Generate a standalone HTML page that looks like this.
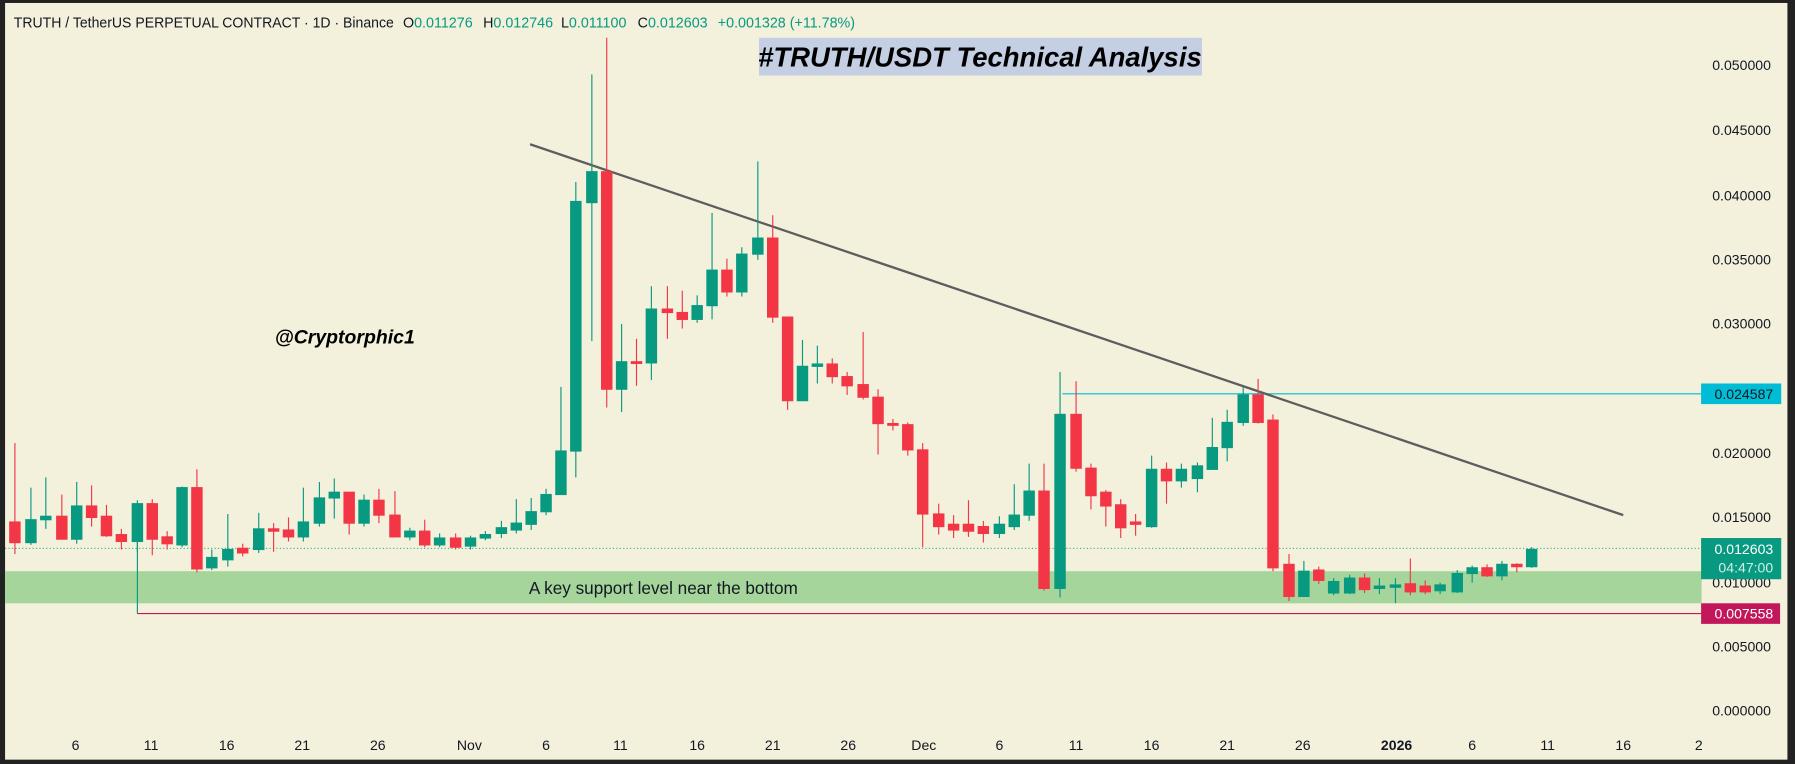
<!DOCTYPE html>
<html><head><meta charset="utf-8"><style>
html,body{margin:0;padding:0;background:#222;}
svg{display:block;}
.g{fill:#089981;stroke:#089981}
.r{fill:#f23645;stroke:#f23645}
line.w{stroke-width:1}
text{font-family:"Liberation Sans",sans-serif;}
</style></head><body>
<svg width="1795" height="764" viewBox="0 0 1568 667.4" xmlns="http://www.w3.org/2000/svg">
<rect x="0" y="0" width="1568" height="667.4" fill="#222"/>
<rect x="4.4" y="2.6" width="1557" height="661" fill="#f3f0dc"/>
<rect x="4.4" y="499" width="1482" height="28" fill="#a5d59b"/>
<line x1="4.4" y1="479" x2="1486" y2="479" stroke="#089981" stroke-width="0.8" stroke-dasharray="1,2"/>
<line x1="120" y1="470" x2="120" y2="536" stroke="#089981" stroke-width="1"/>
<line x1="120" y1="536" x2="1486" y2="536" stroke="#c2185b" stroke-width="1"/>
<line x1="928" y1="344" x2="1486" y2="344" stroke="#00bcd4" stroke-width="1"/>
<line x1="463" y1="126" x2="1418" y2="450" stroke="#5d5d5d" stroke-width="2"/>
<g id="c">
<line class="r w" x1="13" y1="387" x2="13" y2="484"/><rect class="r" x="8.5" y="456" width="9" height="18"/>
<line class="g w" x1="27" y1="426" x2="27" y2="476"/><rect class="g" x="22.5" y="454" width="9" height="20"/>
<line class="g w" x1="40" y1="417" x2="40" y2="462"/><rect class="g" x="35.5" y="451" width="9" height="3"/>
<line class="r w" x1="54" y1="432" x2="54" y2="471"/><rect class="r" x="49.5" y="451" width="9" height="20"/>
<line class="g w" x1="67" y1="421" x2="67" y2="475"/><rect class="g" x="62.5" y="442" width="9" height="29"/>
<line class="r w" x1="80" y1="424" x2="80" y2="460"/><rect class="r" x="75.5" y="442" width="9" height="10"/>
<line class="r w" x1="93" y1="441" x2="93" y2="469"/><rect class="r" x="88.5" y="451" width="9" height="17"/>
<line class="r w" x1="106" y1="462" x2="106" y2="480"/><rect class="r" x="101.5" y="467" width="9" height="6"/>
<line class="g w" x1="120" y1="437" x2="120" y2="482"/><rect class="g" x="115.5" y="440" width="9" height="33"/>
<line class="r w" x1="133" y1="436" x2="133" y2="485"/><rect class="r" x="128.5" y="440" width="9" height="31"/>
<line class="r w" x1="146" y1="464" x2="146" y2="480"/><rect class="r" x="141.5" y="469" width="9" height="6"/>
<line class="g w" x1="159" y1="425" x2="159" y2="478"/><rect class="g" x="154.5" y="426" width="9" height="50"/>
<line class="r w" x1="172" y1="410" x2="172" y2="500"/><rect class="r" x="167.5" y="426" width="9" height="71"/>
<line class="g w" x1="185" y1="480" x2="185" y2="498"/><rect class="g" x="180.5" y="487" width="9" height="9"/>
<line class="g w" x1="199" y1="449" x2="199" y2="495"/><rect class="g" x="194.5" y="480" width="9" height="9"/>
<line class="r w" x1="212" y1="475" x2="212" y2="486"/><rect class="r" x="207.5" y="479" width="9" height="4"/>
<line class="g w" x1="226" y1="448" x2="226" y2="483"/><rect class="g" x="221.5" y="462" width="9" height="18"/>
<line class="r w" x1="239" y1="457" x2="239" y2="482"/><rect class="r" x="234.5" y="462" width="9" height="2"/>
<line class="r w" x1="252" y1="452" x2="252" y2="473"/><rect class="r" x="247.5" y="463" width="9" height="6"/>
<line class="g w" x1="265" y1="426" x2="265" y2="473"/><rect class="g" x="260.5" y="456" width="9" height="13"/>
<line class="g w" x1="279" y1="421" x2="279" y2="460"/><rect class="g" x="274.5" y="435" width="9" height="22"/>
<line class="g w" x1="292" y1="418" x2="292" y2="453"/><rect class="g" x="287.5" y="430" width="9" height="5"/>
<line class="r w" x1="305" y1="430" x2="305" y2="467"/><rect class="r" x="300.5" y="430" width="9" height="27"/>
<line class="g w" x1="318" y1="432" x2="318" y2="460"/><rect class="g" x="313.5" y="437" width="9" height="20"/>
<line class="r w" x1="331" y1="427" x2="331" y2="457"/><rect class="r" x="326.5" y="437" width="9" height="13"/>
<line class="r w" x1="345" y1="429" x2="345" y2="469"/><rect class="r" x="340.5" y="450" width="9" height="19"/>
<line class="g w" x1="358" y1="461" x2="358" y2="472"/><rect class="g" x="353.5" y="464" width="9" height="5"/>
<line class="r w" x1="371" y1="454" x2="371" y2="478"/><rect class="r" x="366.5" y="464" width="9" height="12"/>
<line class="g w" x1="384" y1="466" x2="384" y2="478"/><rect class="g" x="379.5" y="470" width="9" height="6"/>
<line class="r w" x1="398" y1="466" x2="398" y2="480"/><rect class="r" x="393.5" y="470" width="9" height="8"/>
<line class="g w" x1="411" y1="468" x2="411" y2="480"/><rect class="g" x="406.5" y="470" width="9" height="7"/>
<line class="g w" x1="424" y1="464" x2="424" y2="472"/><rect class="g" x="419.5" y="467" width="9" height="3"/>
<line class="g w" x1="438" y1="455" x2="438" y2="470"/><rect class="g" x="433.5" y="461" width="9" height="5"/>
<line class="g w" x1="451" y1="436" x2="451" y2="466"/><rect class="g" x="446.5" y="457" width="9" height="6"/>
<line class="g w" x1="464" y1="435" x2="464" y2="463"/><rect class="g" x="459.5" y="447" width="9" height="11"/>
<line class="g w" x1="477" y1="427" x2="477" y2="450"/><rect class="g" x="472.5" y="432" width="9" height="15"/>
<line class="g w" x1="490" y1="338" x2="490" y2="432"/><rect class="g" x="485.5" y="394" width="9" height="38"/>
<line class="g w" x1="503" y1="159" x2="503" y2="417"/><rect class="g" x="498.5" y="176" width="9" height="218"/>
<line class="g w" x1="517" y1="65" x2="517" y2="298"/><rect class="g" x="512.5" y="150" width="9" height="27"/>
<line class="r w" x1="530" y1="33" x2="530" y2="356"/><rect class="r" x="525.5" y="150" width="9" height="190"/>
<line class="g w" x1="543" y1="283" x2="543" y2="360"/><rect class="g" x="538.5" y="316" width="9" height="24"/>
<line class="r w" x1="556" y1="296" x2="556" y2="337"/><rect class="r" x="551.5" y="316" width="9" height="1.5"/>
<line class="g w" x1="569" y1="250" x2="569" y2="332"/><rect class="g" x="564.5" y="270" width="9" height="47"/>
<line class="r w" x1="583" y1="250" x2="583" y2="296"/><rect class="r" x="578.5" y="270" width="9" height="3"/>
<line class="r w" x1="596" y1="254" x2="596" y2="287"/><rect class="r" x="591.5" y="273" width="9" height="6"/>
<line class="g w" x1="609" y1="258" x2="609" y2="282"/><rect class="g" x="604.5" y="267" width="9" height="12"/>
<line class="g w" x1="622" y1="186" x2="622" y2="279"/><rect class="g" x="617.5" y="236" width="9" height="31"/>
<line class="r w" x1="635" y1="226" x2="635" y2="259"/><rect class="r" x="630.5" y="236" width="9" height="19"/>
<line class="g w" x1="648" y1="216" x2="648" y2="259"/><rect class="g" x="643.5" y="222" width="9" height="33"/>
<line class="g w" x1="662" y1="141" x2="662" y2="227"/><rect class="g" x="657.5" y="208" width="9" height="14"/>
<line class="r w" x1="675" y1="188" x2="675" y2="282"/><rect class="r" x="670.5" y="208" width="9" height="69"/>
<line class="r w" x1="688" y1="277" x2="688" y2="358"/><rect class="r" x="683.5" y="277" width="9" height="73"/>
<line class="g w" x1="701" y1="297" x2="701" y2="350"/><rect class="g" x="696.5" y="320" width="9" height="30"/>
<line class="g w" x1="714" y1="302" x2="714" y2="335"/><rect class="g" x="709.5" y="318" width="9" height="2"/>
<line class="r w" x1="727" y1="313" x2="727" y2="335"/><rect class="r" x="722.5" y="318" width="9" height="11"/>
<line class="r w" x1="740" y1="325" x2="740" y2="345"/><rect class="r" x="735.5" y="329" width="9" height="8"/>
<line class="r w" x1="754" y1="290" x2="754" y2="349"/><rect class="r" x="749.5" y="336" width="9" height="11"/>
<line class="r w" x1="767" y1="340" x2="767" y2="397"/><rect class="r" x="762.5" y="347" width="9" height="23"/>
<line class="r w" x1="780" y1="366" x2="780" y2="376"/><rect class="r" x="775.5" y="370" width="9" height="1.5"/>
<line class="r w" x1="793" y1="369" x2="793" y2="398"/><rect class="r" x="788.5" y="371" width="9" height="22"/>
<line class="r w" x1="806" y1="387" x2="806" y2="478"/><rect class="r" x="801.5" y="393" width="9" height="56"/>
<line class="r w" x1="820" y1="440" x2="820" y2="467"/><rect class="r" x="815.5" y="449" width="9" height="11"/>
<line class="r w" x1="833" y1="450" x2="833" y2="470"/><rect class="r" x="828.5" y="458" width="9" height="5"/>
<line class="r w" x1="846" y1="437" x2="846" y2="469"/><rect class="r" x="841.5" y="458" width="9" height="6"/>
<line class="r w" x1="859" y1="455" x2="859" y2="474"/><rect class="r" x="854.5" y="460" width="9" height="6"/>
<line class="g w" x1="873" y1="451" x2="873" y2="470"/><rect class="g" x="868.5" y="458" width="9" height="8"/>
<line class="g w" x1="886" y1="423" x2="886" y2="463"/><rect class="g" x="881.5" y="450" width="9" height="10"/>
<line class="g w" x1="899" y1="405" x2="899" y2="455"/><rect class="g" x="894.5" y="429" width="9" height="21"/>
<line class="r w" x1="912" y1="405" x2="912" y2="516"/><rect class="r" x="907.5" y="429" width="9" height="85"/>
<line class="g w" x1="926" y1="325" x2="926" y2="522"/><rect class="g" x="921.5" y="362" width="9" height="152"/>
<line class="r w" x1="940" y1="333" x2="940" y2="412"/><rect class="r" x="935.5" y="362" width="9" height="47"/>
<line class="r w" x1="953" y1="405" x2="953" y2="445"/><rect class="r" x="948.5" y="409" width="9" height="24"/>
<line class="r w" x1="966" y1="428" x2="966" y2="460"/><rect class="r" x="961.5" y="430" width="9" height="12"/>
<line class="r w" x1="979" y1="436" x2="979" y2="470"/><rect class="r" x="974.5" y="441" width="9" height="20"/>
<line class="r w" x1="992" y1="449" x2="992" y2="468"/><rect class="r" x="987.5" y="456" width="9" height="2"/>
<line class="g w" x1="1006" y1="398" x2="1006" y2="461"/><rect class="g" x="1001.5" y="410" width="9" height="50"/>
<line class="r w" x1="1019" y1="404" x2="1019" y2="440"/><rect class="r" x="1014.5" y="410" width="9" height="10"/>
<line class="g w" x1="1032" y1="405" x2="1032" y2="426"/><rect class="g" x="1027.5" y="410" width="9" height="10"/>
<line class="g w" x1="1046" y1="404" x2="1046" y2="430"/><rect class="g" x="1041.5" y="407" width="9" height="11"/>
<line class="g w" x1="1059" y1="365" x2="1059" y2="410"/><rect class="g" x="1054.5" y="391" width="9" height="19"/>
<line class="g w" x1="1072" y1="358" x2="1072" y2="403"/><rect class="g" x="1067.5" y="369" width="9" height="22"/>
<line class="g w" x1="1086" y1="338" x2="1086" y2="372"/><rect class="g" x="1081.5" y="345" width="9" height="24"/>
<line class="r w" x1="1099" y1="331" x2="1099" y2="370"/><rect class="r" x="1094.5" y="345" width="9" height="24"/>
<line class="r w" x1="1112" y1="362" x2="1112" y2="499"/><rect class="r" x="1107.5" y="367" width="9" height="129"/>
<line class="r w" x1="1126" y1="484" x2="1126" y2="525"/><rect class="r" x="1121.5" y="493" width="9" height="28"/>
<line class="g w" x1="1139" y1="490" x2="1139" y2="521"/><rect class="g" x="1134.5" y="499" width="9" height="22"/>
<line class="r w" x1="1152" y1="495" x2="1152" y2="510"/><rect class="r" x="1147.5" y="498" width="9" height="9"/>
<line class="g w" x1="1165" y1="505" x2="1165" y2="520"/><rect class="g" x="1160.5" y="508" width="9" height="10"/>
<line class="g w" x1="1179" y1="502" x2="1179" y2="519"/><rect class="g" x="1174.5" y="505" width="9" height="13"/>
<line class="r w" x1="1192" y1="501" x2="1192" y2="518"/><rect class="r" x="1187.5" y="505" width="9" height="10"/>
<line class="g w" x1="1205" y1="505" x2="1205" y2="519"/><rect class="g" x="1200.5" y="512" width="9" height="2"/>
<line class="g w" x1="1219" y1="505" x2="1219" y2="527"/><rect class="g" x="1214.5" y="511" width="9" height="2"/>
<line class="r w" x1="1232" y1="488" x2="1232" y2="520"/><rect class="r" x="1227.5" y="510" width="9" height="7"/>
<line class="r w" x1="1245" y1="507" x2="1245" y2="519"/><rect class="r" x="1240.5" y="512" width="9" height="5"/>
<line class="g w" x1="1258" y1="509" x2="1258" y2="519"/><rect class="g" x="1253.5" y="511" width="9" height="5"/>
<line class="g w" x1="1273" y1="498" x2="1273" y2="518"/><rect class="g" x="1268.5" y="501" width="9" height="16"/>
<line class="g w" x1="1286" y1="494" x2="1286" y2="509"/><rect class="g" x="1281.5" y="496" width="9" height="5"/>
<line class="r w" x1="1299" y1="493" x2="1299" y2="504"/><rect class="r" x="1294.5" y="496" width="9" height="7"/>
<line class="g w" x1="1312" y1="490" x2="1312" y2="507"/><rect class="g" x="1307.5" y="493" width="9" height="10"/>
<line class="r w" x1="1325" y1="492" x2="1325" y2="500"/><rect class="r" x="1320.5" y="493" width="9" height="2"/>
<line class="g w" x1="1338" y1="478" x2="1338" y2="496"/><rect class="g" x="1333.5" y="480" width="9" height="15"/>
</g>
<text x="12" y="24" font-size="12.5" fill="#131722" textLength="332" lengthAdjust="spacingAndGlyphs">TRUTH / TetherUS PERPETUAL CONTRACT · 1D · Binance</text>
<text y="24" font-size="12.5" fill="#131722">
<tspan x="352">O</tspan><tspan fill="#089981">0.011276</tspan>
<tspan x="422">H</tspan><tspan fill="#089981">0.012746</tspan>
<tspan x="490">L</tspan><tspan fill="#089981">0.011100</tspan>
<tspan x="557">C</tspan><tspan fill="#089981">0.012603</tspan>
<tspan x="627" fill="#089981">+0.001328 (+11.78%)</tspan>
</text>
<rect x="663" y="33" width="387" height="33" fill="#c5cfe4"/>
<text x="856" y="58" font-size="24" font-weight="bold" font-style="italic" text-anchor="middle" fill="#000">#TRUTH/USDT Technical Analysis</text>
<text x="240" y="300" font-size="17" font-weight="bold" font-style="italic" fill="#000">@Cryptorphic1</text>
<text x="462" y="519" font-size="15" fill="#131722">A key support level near the bottom</text>
<g font-size="12.3" fill="#131722" text-anchor="end">
<text x="1547" y="61">0.050000</text>
<text x="1547" y="118">0.045000</text>
<text x="1547" y="175">0.040000</text>
<text x="1547" y="231">0.035000</text>
<text x="1547" y="287">0.030000</text>
<text x="1547" y="400">0.020000</text>
<text x="1547" y="456">0.015000</text>
<text x="1547" y="513">0.010000</text>
<text x="1547" y="569">0.005000</text>
<text x="1547" y="625">0.000000</text>
</g>
<rect x="1486" y="335" width="70" height="18" fill="#00bcd4"/>
<text x="1549" y="348.5" font-size="12.3" fill="#131722" text-anchor="end">0.024587</text>
<rect x="1486" y="470" width="70" height="36" fill="#089981"/>
<text x="1549" y="484" font-size="12.3" fill="#fff" text-anchor="end">0.012603</text>
<text x="1549" y="500" font-size="12.3" fill="#cfeee8" text-anchor="end">04:47:00</text>
<rect x="1486" y="527" width="69" height="18" fill="#c2185b"/>
<text x="1549" y="540.5" font-size="12.3" fill="#fff" text-anchor="end">0.007558</text>
<g font-size="12.3" fill="#131722" text-anchor="middle">
<text x="66" y="655">6</text><text x="132" y="655">11</text><text x="198" y="655">16</text>
<text x="264" y="655">21</text><text x="330" y="655">26</text><text x="410" y="655">Nov</text>
<text x="477" y="655">6</text><text x="542" y="655">11</text><text x="609" y="655">16</text>
<text x="675" y="655">21</text><text x="741" y="655">26</text><text x="807" y="655">Dec</text>
<text x="873" y="655">6</text><text x="940" y="655">11</text><text x="1006" y="655">16</text>
<text x="1072" y="655">21</text><text x="1138" y="655">26</text>
<text x="1220" y="655" font-weight="bold">2026</text>
<text x="1286" y="655">6</text><text x="1352" y="655">11</text><text x="1418" y="655">16</text>
<text x="1484" y="655">2</text>
</g>
</svg>
</body></html>
